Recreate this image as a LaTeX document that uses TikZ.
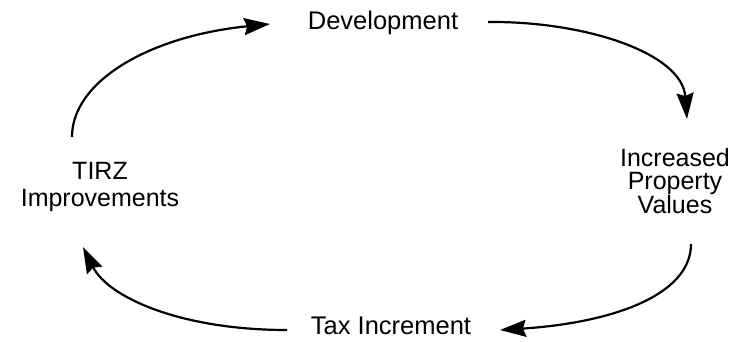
\documentclass[tikz,border=0pt]{standalone}
\usepackage{fontspec}
\setmainfont{Liberation Sans}
\usetikzlibrary{arrows.meta}

\begin{document}
\begin{tikzpicture}[x=1pt,y=1pt,
        lbl/.style={inner sep=0pt,align=center,font=\fontsize{25.5}{27}\selectfont},
        cyc/.style={line width=2.2pt,-{Stealth[length=26pt,width=17pt,inset=3pt]}}]
        \useasboundingbox (0,0) rectangle (735,341);
        \node[lbl] (dev) at (383,318) {Development};
        \node[lbl,font=\fontsize{25}{22.5}\selectfont] (ipv) at (675,160) {Increased\\Property\\Values};
        \node[lbl] (tax) at (391,15) {Tax Increment};
        \node[lbl,font=\fontsize{25}{27}\selectfont] (tirz) at (100,154) {TIRZ\\Improvements};

        \draw[cyc] ([shift={(-28,50)}]tirz.center) .. controls +(0,56) and +(-120,-12) .. ([shift={(-113,-1)}]dev.center);
        \draw[cyc] ([shift={(105,1)}]dev.center) .. controls +(97,1) and +(-5,66) .. ([shift={(12,62)}]ipv.center);
        \draw[cyc] ([shift={(16,-63)}]ipv.center) .. controls +(0,-52) and +(110,7) .. ([shift={(109,-4)}]tax.center);
        \draw[cyc] ([shift={(-104,-4)}]tax.center) .. controls +(-107,0) and +(25,-50) .. ([shift={(-17,-60)}]tirz.center);
    \end{tikzpicture}
\end{document}
